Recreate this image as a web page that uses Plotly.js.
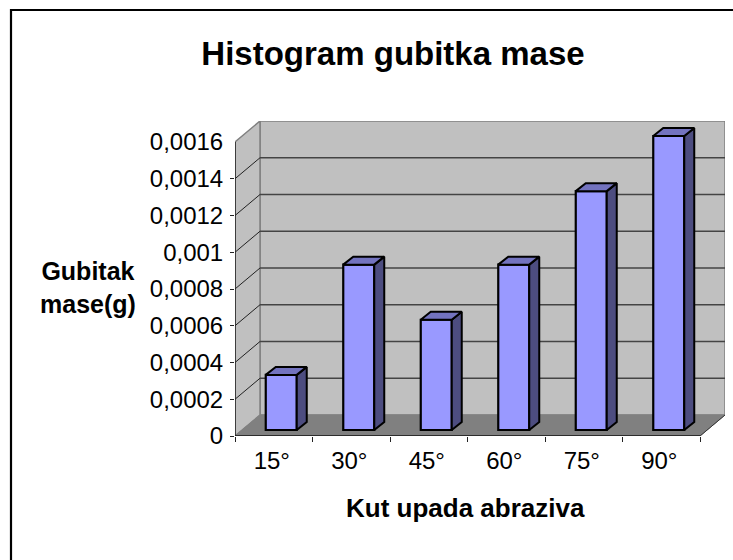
<!DOCTYPE html>
<html>
<head>
<meta charset="utf-8">
<script src="https://cdn.plot.ly/plotly-3.0.1.min.js"></script>
<style>html,body{margin:0;padding:0;background:#fff}</style>
</head>
<body>
<div id="chart" style="width:733px;height:560px"></div>
<script>
const categories = ['15°','30°','45°','60°','75°','90°'];
const values = [0.0003,0.0009,0.0006,0.0009,0.0013,0.0016];
const yTickVals = [0,0.0002,0.0004,0.0006,0.0008,0.001,0.0012,0.0014,0.0016];
const yTickText = ['0','0,0002','0,0004','0,0006','0,0008','0,001','0,0012','0,0014','0,0016'];
const titleText = 'Histogram gubitka mase';
const xTitleText = 'Kut upada abraziva';
const yTitleText = 'Gubitak<br>mase(g)';

// pixel frame of the plot area and of the oblique projection
const W=733,H=560, L=235,R=725,T=121,B=436;
const pxPerCat=77.5, pxPerVal=294/0.0016;
const xr=[0,(R-L)/pxPerCat], yr=[0,(B-T)/pxPerVal];
const toX=p=>p/pxPerCat, toY=p=>p/pxPerVal;
const wallDX=toX(25), wallDY=toY(21);
const barShiftX=toX(7.5), barBase=toY(6), barDX=toX(10), barDY=toY(8);
const barW=toX(31);
const n=categories.length;
const topV=yTickVals[yTickVals.length-1];
const centers=categories.map((_,i)=>i+0.5+barShiftX);

function poly(pts,fill,lineCol,lw){
  return {type:'path',layer:'below',xref:'x',yref:'y',
    path:'M'+pts.map(p=>p[0]+','+p[1]).join(' L')+' Z',
    fillcolor:fill,line:{color:lineCol,width:lw}};
}
function seg(a,b,col,lw,layer){
  return {type:'line',layer:layer||'below',xref:'x',yref:'y',x0:a[0],y0:a[1],x1:b[0],y1:b[1],line:{color:col,width:lw}};
}
const shapes=[
  poly([[wallDX,wallDY],[n+wallDX,wallDY],[n+wallDX,topV+wallDY],[wallDX,topV+wallDY]],'#C0C0C0','#808080',1.5),
  poly([[0,0],[wallDX,wallDY],[wallDX,topV+wallDY],[0,topV]],'#C0C0C0','#808080',1.5),
  poly([[0,0],[n,0],[n+wallDX,wallDY],[wallDX,wallDY]],'#808080','#808080',1)
];
yTickVals.slice(1,-1).forEach(v=>{
  shapes.push(seg([0,v],[wallDX,v+wallDY],'#222',1));
  shapes.push(seg([wallDX,v+wallDY],[n+wallDX,v+wallDY],'#444',1.5));
});
shapes.push(seg([0,0],[0,topV],'#222',1.5));
shapes.push(seg([0,0],[n,0],'#111',1.5));
shapes.push(seg([n,0],[n+wallDX,wallDY],'#333',1));
// chart-area frame: only top and left edges fall inside the window
const px=p=>(p-L)/(R-L), py=p=>(B-p)/(B-T);
shapes.push({type:'path',layer:'above',xref:'paper',yref:'paper',
  path:`M${px(11)},${py(H+5)} L${px(11)},${py(10)} L${px(W+5)},${py(10)}`,
  line:{color:'#000',width:2.2}});

const sideX=[],sideY=[],topX=[],topY=[];
values.forEach((v,i)=>{
  const xl=centers[i]-barW/2,xr2=centers[i]+barW/2,b=barBase,t=barBase+v;
  sideX.push(xr2,xr2+barDX,xr2+barDX,xr2,xr2,null);
  sideY.push(b,b+barDY,t+barDY,t,b,null);
  topX.push(xl,xl+barDX,xr2+barDX,xr2,xl,null);
  topY.push(t,t+barDY,t+barDY,t,t,null);
});
const traces=[
  {type:'bar',x:centers,y:values,base:values.map(()=>barBase),width:barW,
   marker:{color:'#9999FF',line:{color:'#000',width:2.2}},hoverinfo:'skip',showlegend:false},
  {type:'scatter',mode:'lines',x:sideX,y:sideY,fill:'toself',fillcolor:'#4D4D80',
   line:{color:'#000',width:2},hoverinfo:'skip',showlegend:false},
  {type:'scatter',mode:'lines',x:topX,y:topY,fill:'toself',fillcolor:'#7373BF',
   line:{color:'#000',width:2},hoverinfo:'skip',showlegend:false},
  {type:'scatter',mode:'markers',x:[0],y:[0],xaxis:'x2',yaxis:'y2',marker:{opacity:0},hoverinfo:'skip',showlegend:false}
];
const fam='"Liberation Sans", Arial, sans-serif';
const layout={
  width:W,height:H,margin:{l:L,r:W-R,t:T,b:H-B},
  paper_bgcolor:'#fff',plot_bgcolor:'rgba(0,0,0,0)',showlegend:false,
  title:{text:'<b>'+titleText+'</b>',font:{family:fam,size:33,color:'#000'},x:393/W,xanchor:'center',y:1-53/H,yanchor:'middle'},
  xaxis:{range:xr,tickmode:'array',tickvals:categories.map((_,i)=>i).concat([n]),ticktext:categories.map(()=>'').concat(['']),
    ticks:'outside',ticklen:5,tickcolor:'#222',tickwidth:1,showgrid:false,zeroline:false,showline:false},
  xaxis2:{overlaying:'x',side:'bottom',range:xr,tickmode:'array',tickvals:categories.map((_,i)=>i+0.475),ticktext:categories,
    ticks:'outside',ticklen:3,tickcolor:'rgba(0,0,0,0)',tickfont:{family:fam,size:24,color:'#000'},showgrid:false,zeroline:false,showline:false},
  yaxis:{range:yr,tickmode:'array',tickvals:yTickVals,ticktext:yTickText,ticks:'outside',ticklen:6,tickcolor:'rgba(0,0,0,0)',
    tickfont:{family:fam,size:24,color:'#000'},showgrid:false,zeroline:false,showline:false},
  yaxis2:{overlaying:'y',side:'left',range:yr,tickmode:'array',tickvals:yTickVals.slice(0,-1),ticktext:yTickVals.slice(0,-1).map(()=>''),
    ticks:'outside',ticklen:4,tickcolor:'#222',tickwidth:1,showgrid:false,zeroline:false,showline:false},
  shapes:shapes,
  annotations:[
   {text:'<b>'+yTitleText+'</b>',xref:'paper',yref:'paper',x:px(88),y:py(287),xanchor:'center',yanchor:'middle',
    showarrow:false,align:'center',font:{family:fam,size:25,color:'#000'}},
   {text:'<b>'+xTitleText+'</b>',xref:'paper',yref:'paper',x:px(465),y:py(508),xanchor:'center',yanchor:'middle',
    showarrow:false,align:'center',font:{family:fam,size:26,color:'#000'}}
  ]
};
Plotly.newPlot('chart',traces,layout,{displayModeBar:false,staticPlot:true});
</script>
</body>
</html>
